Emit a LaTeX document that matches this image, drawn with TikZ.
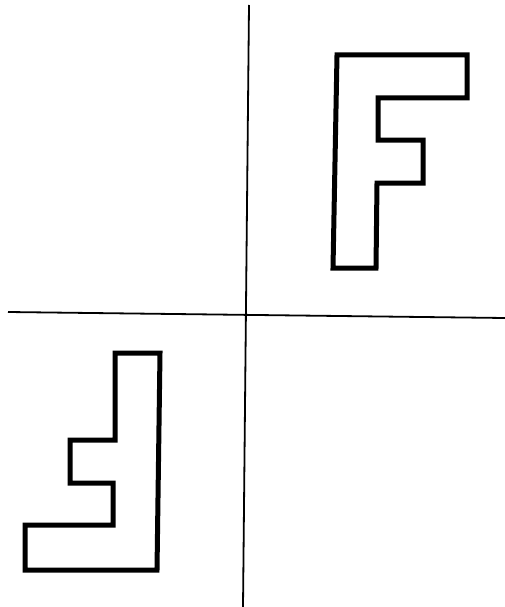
\documentclass[tikz,border=0pt]{standalone}
\begin{document}
\begin{tikzpicture}[x=1pt,y=-1pt,
  axis/.style={line width=1.8pt},
  fshape/.style={line width=5pt, line join=miter}]
\useasboundingbox (0,0) rectangle (505,607);
% axes
\coordinate (vt) at (249,5);
\coordinate (vb) at (243,607);
\coordinate (hl) at (8,312);
\coordinate (hr) at (505,318);
\draw[axis] (vt) -- (vb);
\draw[axis] (hl) -- (hr);
% upright F (top right)
\draw[fshape] (337,55) -- (467,55) -- (467,98) -- (378,98) -- (378,140)
  -- (423,140) -- (423,183) -- (377,183) -- (376,268) -- (333,268) -- cycle;
% rotated F (bottom left)
\draw[fshape] (115,353) -- (160,353) -- (157,570) -- (25,570) -- (25,525)
  -- (113,525) -- (113,483) -- (70,483) -- (70,440) -- (115,440) -- cycle;
\end{tikzpicture}
\end{document}
